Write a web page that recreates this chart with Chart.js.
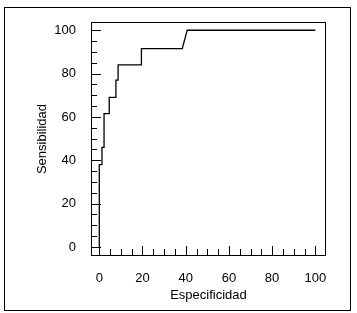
<!DOCTYPE html>
<html>
<head>
<meta charset="utf-8">
<script src="https://cdn.jsdelivr.net/npm/chart.js@4"></script>
<style>
html,body{margin:0;padding:0;background:#fff;}
canvas{display:block;}
</style>
</head>
<body>
<canvas id="c" width="357" height="313"></canvas>
<script>
// Vertices of the ROC step curve
const especificidad = [0, 0, 1.25, 1.25, 2.2, 2.2, 4.6, 4.6, 7.7, 7.7, 8.7, 8.7, 19.5, 19.5, 38.4, 40.7, 100];
const sensibilidad  = [0, 38, 38, 46, 46, 61.5, 61.5, 69, 69, 77, 77, 84, 84, 91.5, 91.5, 100, 100];
const xTicks = [0, 20, 40, 60, 80, 100];
const yTicks = [0, 20, 40, 60, 80, 100];
const minorStep = 5;

const FONT = "'Liberation Sans', Arial, sans-serif";

const framePlugin = {
  id: 'frame',
  afterDraw(chart) {
    const ctx = chart.ctx;
    const a = chart.chartArea;
    const xs = chart.scales.x, ys = chart.scales.y;
    ctx.save();
    ctx.strokeStyle = '#000';
    ctx.lineWidth = 1;
    // outer border
    ctx.strokeRect(4.5, 7.5, 346, 303);
    // plot frame
    ctx.strokeRect(Math.round(a.left) + 0.5, Math.round(a.top) + 0.5,
                   Math.round(a.right - a.left) - 1, Math.round(a.bottom - a.top) - 1);
    // inward ticks
    ctx.beginPath();
    for (let v = 0; v <= 100; v += minorStep) {
      const major = v % 20 === 0;
      const py = Math.round(ys.getPixelForValue(v)) + 0.5;
      ctx.moveTo(a.left, py);
      ctx.lineTo(a.left + (major ? 10 : 6), py);
      const px = Math.round(xs.getPixelForValue(v)) + 0.5;
      ctx.moveTo(px, a.bottom);
      ctx.lineTo(px, a.bottom - (major ? 10 : 7));
    }
    ctx.stroke();
    ctx.restore();
  }
};

new Chart(document.getElementById('c'), {
  type: 'scatter',
  data: {
    datasets: [{
      data: especificidad.map((x, i) => ({x: x, y: sensibilidad[i]})),
      showLine: true,
      borderColor: '#000',
      borderWidth: 1.3,
      pointRadius: 0,
      tension: 0,
      fill: false
    }]
  },
  options: {
    responsive: false,
    animation: false,
    devicePixelRatio: 1,
    layout: { padding: { left: 4, top: 22, right: 31, bottom: 0 } },
    plugins: { legend: { display: false }, tooltip: { enabled: false } },
    scales: {
      x: {
        type: 'linear',
        min: -3.84, max: 104.95,
        grid: { display: false },
        border: { display: false },
        afterBuildTicks(s) { s.ticks = xTicks.map(v => ({ value: v })); },
        afterFit(s) { s.height = 57; },
        ticks: { color: '#000', padding: 7, font: { family: FONT, size: 13 }, maxRotation: 0, autoSkip: false },
        title: { display: true, text: 'Especificidad', color: '#000', font: { family: FONT, size: 13 }, padding: { top: 0, bottom: 10 } }
      },
      y: {
        type: 'linear',
        min: -4.15, max: 103.8,
        grid: { display: false },
        border: { display: false },
        afterBuildTicks(s) { s.ticks = yTicks.map(v => ({ value: v })); },
        afterFit(s) { s.width = 87; },
        ticks: { color: '#000', padding: 7, font: { family: FONT, size: 13 }, autoSkip: false },
        title: { display: true, text: 'Sensibilidad', color: '#000', font: { family: FONT, size: 13 }, padding: { top: 31, bottom: 0 } }
      }
    }
  },
  plugins: [framePlugin]
});
</script>
</body>
</html>
